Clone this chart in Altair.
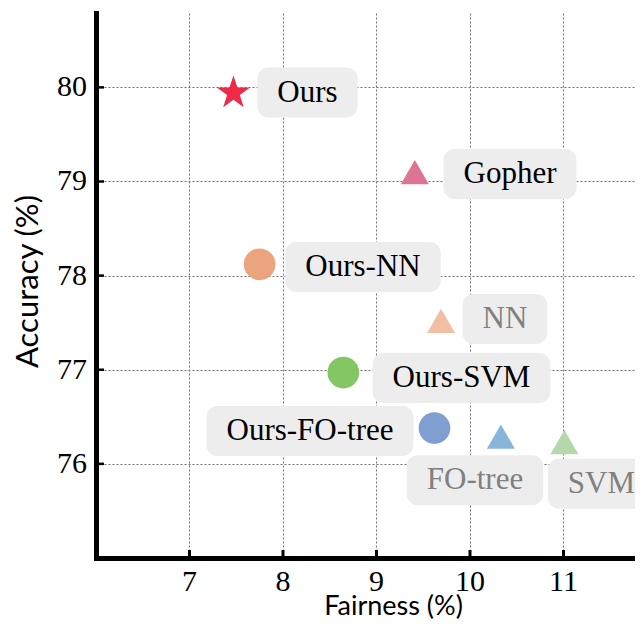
import altair as alt
import pandas as pd

# ---- data ----
methods = ["Ours", "Gopher", "Ours-NN", "NN", "Ours-SVM", "Ours-FO-tree", "FO-tree", "SVM"]
fairness = [7.47, 9.41, 7.75, 9.69, 8.645, 9.62, 10.33, 11.01]
accuracy = [79.94, 79.10, 78.12, 77.52, 76.97, 76.38, 76.29, 76.23]
markers = ["star", "triangle", "circle", "triangle", "circle", "circle", "triangle", "triangle"]
label_x = [8.262, 10.428, 8.856, 10.374, 9.909, 8.289, 10.053, 11.406]
label_y = [79.945, 79.08, 78.091, 77.538, 76.911, 76.348, 75.827, 75.79]
x_ticks = [7, 8, 9, 10, 11]
y_ticks = [76, 77, 78, 79, 80]
baselines = ["NN", "FO-tree", "SVM"]

# ---- styles ----
colors = ["#EE2A48", "#DC7593", "#EBA47E", "#F4BEA2", "#84C662", "#7F9FD0", "#88B6DB", "#B6D6AC"]
STAR = ("M0,-1L0.2245,-0.309L0.951,-0.309L0.363,0.118L0.588,0.809L0,0.382"
        "L-0.588,0.809L-0.363,0.118L-0.951,-0.309L-0.2245,-0.309Z")
W, H = 539, 545
X_DOMAIN = [6, 6 + W / 93.5]
Y_DOMAIN = [75, 80.79]
LABEL_FS = 31
SERIF = "Liberation Serif"
SANS = "Lato"

# Times-Roman advance widths (per 1000 em) used to size the label boxes
TIMES_W = {"O": 722, "u": 500, "r": 333, "s": 389, "-": 333, "N": 722, "S": 556,
           "V": 722, "M": 889, "F": 556, "t": 278, "e": 444, "G": 722, "o": 500,
           "p": 500, "h": 500}


def text_px(s):
    return sum(TIMES_W.get(c, 500) for c in s) * LABEL_FS / 1000.0


ppu_x = W / (X_DOMAIN[1] - X_DOMAIN[0])
ppu_y = H / (Y_DOMAIN[1] - Y_DOMAIN[0])

pts = pd.DataFrame({"method": methods, "fairness": fairness, "accuracy": accuracy,
                    "marker": markers})
labs = pd.DataFrame({"method": methods, "lx": label_x, "ly": label_y})
half_w = labs["method"].map(lambda s: (text_px(s) + 40) / 2 / ppu_x)
half_h = 25 / ppu_y
labs["x1"] = labs["lx"] - half_w
labs["x2"] = labs["lx"] + half_w
labs["y1"] = labs["ly"] - half_h
labs["y2"] = labs["ly"] + half_h

xs = alt.Scale(domain=X_DOMAIN, nice=False, zero=False)
ys = alt.Scale(domain=Y_DOMAIN, nice=False, zero=False)

x_axis = alt.Axis(values=x_ticks, title="Fairness (%)", titleX=297, titleY=56,
                  titleBaseline="alphabetic", titleAnchor="middle", titleFontSize=27,
                  labels=False)
y_axis = alt.Axis(values=y_ticks, title="Accuracy (%)", titleX=-68, titleY=268,
                  titleBaseline="middle", titleAnchor="middle", titleAngle=-90,
                  titleFontSize=31, labels=False)

points = alt.Chart(pts).mark_point(filled=True, opacity=1, strokeWidth=0).encode(
    x=alt.X("fairness:Q", scale=xs, axis=x_axis),
    y=alt.Y("accuracy:Q", scale=ys, axis=y_axis),
    shape=alt.Shape("marker:N", scale=alt.Scale(domain=["star", "circle", "triangle"],
                                                 range=[STAR, "circle", "triangle-up"]),
                    legend=None),
    size=alt.Size("marker:N", scale=alt.Scale(domain=["star", "circle", "triangle"],
                                               range=[1225, 784, 1900]), legend=None),
    color=alt.Color("method:N", scale=alt.Scale(domain=methods, range=colors), legend=None),
)

boxes = alt.Chart(labs).mark_rect(color="#EDEDED", cornerRadius=11, clip=True).encode(
    x=alt.X("x1:Q", scale=xs, axis=x_axis),
    x2="x2:Q",
    y=alt.Y("y1:Q", scale=ys, axis=y_axis),
    y2="y2:Q",
)

texts = alt.Chart(labs).mark_text(font=SERIF, fontSize=LABEL_FS, align="center",
                                  baseline="middle").encode(
    x=alt.X("lx:Q", scale=xs, axis=x_axis),
    y=alt.Y("ly:Q", scale=ys, axis=y_axis),
    text="method:N",
    color=alt.condition(alt.FieldOneOfPredicate(field="method", oneOf=baselines),
                        alt.value("#808080"), alt.value("black")),
)

xt = pd.DataFrame({"v": x_ticks})
yt = pd.DataFrame({"v": y_ticks})
xticks = alt.Chart(xt).mark_rule(color="black", strokeWidth=3).encode(
    x=alt.X("v:Q", scale=xs, axis=x_axis), y=alt.value(H), y2=alt.value(H - 8))
yticks = alt.Chart(yt).mark_rule(color="black", strokeWidth=2.5).encode(
    y=alt.Y("v:Q", scale=ys, axis=y_axis), x=alt.value(0), x2=alt.value(8))

xlabels = alt.Chart(xt).mark_text(font=SERIF, fontSize=30, color="black", align="center",
                                  baseline="top").encode(
    x=alt.X("v:Q", scale=xs, axis=x_axis), y=alt.value(H + 9), text="v:Q")
ylabels = alt.Chart(yt).mark_text(font=SERIF, fontSize=30, color="black", align="right",
                                  baseline="middle").encode(
    y=alt.Y("v:Q", scale=ys, axis=y_axis), x=alt.value(-9), text="v:Q")

chart = alt.layer(boxes, texts, points, xticks, yticks, xlabels, ylabels).properties(
    width=W, height=H,
    background="white",
    autosize=alt.AutoSizeParams(type="none"),
    padding={"left": 88, "top": 5, "right": 0, "bottom": 62},
).configure_view(stroke=None).configure_axis(
    grid=True, gridDash=[2, 2], gridColor="#707070", gridWidth=1,
    domainColor="black", domainWidth=5, domainCap="square", tickSize=0,
    titleFont=SANS, titleFontWeight="normal", titleColor="black",
)

chart.save("out.html", embed_options={"renderer": "svg", "actions": False})
